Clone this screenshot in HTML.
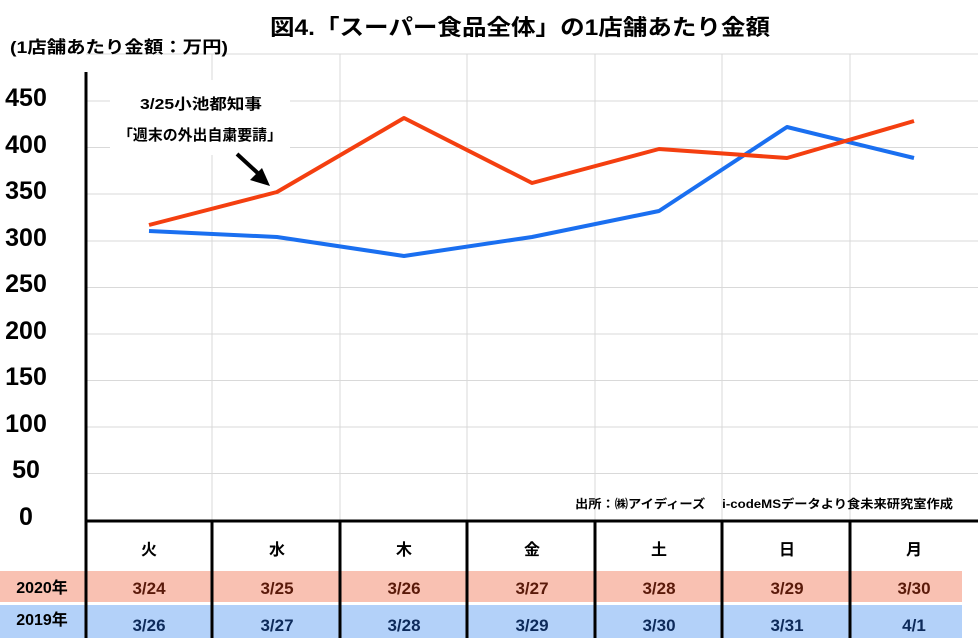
<!DOCTYPE html>
<html><head><meta charset="utf-8"><style>
body{margin:0;background:#fff;}
svg text{font-family:"Liberation Sans","Noto Sans CJK JP",sans-serif;font-weight:bold;}
</style></head><body>
<svg width="978" height="638" xmlns="http://www.w3.org/2000/svg">
<rect width="978" height="638" fill="#fff"/>
<g stroke="#d9d9d9" stroke-width="1">
<line x1="86" y1="54" x2="978" y2="54"/>
<line x1="86" y1="101" x2="978" y2="101"/><line x1="86" y1="147.5" x2="978" y2="147.5"/>
<line x1="86" y1="194" x2="978" y2="194"/><line x1="86" y1="241" x2="978" y2="241"/>
<line x1="86" y1="287.5" x2="978" y2="287.5"/><line x1="86" y1="334" x2="978" y2="334"/>
<line x1="86" y1="380.5" x2="978" y2="380.5"/><line x1="86" y1="427" x2="978" y2="427"/>
<line x1="86" y1="473.5" x2="978" y2="473.5"/>
<line x1="212" y1="54" x2="212" y2="520"/><line x1="340" y1="54" x2="340" y2="520"/>
<line x1="467" y1="54" x2="467" y2="520"/><line x1="595" y1="54" x2="595" y2="520"/>
<line x1="722" y1="54" x2="722" y2="520"/><line x1="850" y1="54" x2="850" y2="520"/>
</g>
<rect x="0" y="571" width="962" height="31" fill="#f9c1b2"/>
<rect x="0" y="605" width="962" height="33" fill="#b3d1f9"/>
<line x1="86" y1="72" x2="86" y2="638" stroke="#000" stroke-width="3"/>
<line x1="86" y1="521" x2="978" y2="521" stroke="#000" stroke-width="3"/>
<g stroke="#000" stroke-width="3">
<line x1="212" y1="521" x2="212" y2="638"/><line x1="340" y1="521" x2="340" y2="638"/>
<line x1="467" y1="521" x2="467" y2="638"/><line x1="595" y1="521" x2="595" y2="638"/>
<line x1="722" y1="521" x2="722" y2="638"/><line x1="850" y1="521" x2="850" y2="638"/>
</g>
<rect x="110" y="80" width="180" height="75" fill="#fff"/>
<polyline fill="none" stroke="#1a6ff0" stroke-width="4" stroke-linejoin="round" points="149,231 277,237 404,256 532,237 659,211 787,127 914,158"/>
<polyline fill="none" stroke="#f43f10" stroke-width="4" stroke-linejoin="round" points="149,225 277,192 404,118 532,183 659,149 787,158 914,121"/>
<line x1="237" y1="154" x2="262" y2="177" stroke="#000" stroke-width="4"/>
<polygon points="270,186 250,180 262,168" fill="#000"/>
<text x="270" y="35" font-size="22" textLength="500" lengthAdjust="spacingAndGlyphs">図4.「スーパー食品全体」の1店舗あたり金額</text>
<text x="10" y="53" font-size="17" textLength="218" lengthAdjust="spacingAndGlyphs">(1店舗あたり金額：万円)</text>
<text x="140" y="109" font-size="15" textLength="122" lengthAdjust="spacingAndGlyphs">3/25小池都知事</text>
<text x="118" y="140" font-size="15" textLength="164" lengthAdjust="spacingAndGlyphs">「週末の外出自粛要請」</text>
<g font-size="25" text-anchor="middle">
<text x="26" y="106">450</text><text x="26" y="153">400</text><text x="26" y="199">350</text>
<text x="26" y="246">300</text><text x="26" y="292">250</text><text x="26" y="339">200</text>
<text x="26" y="385">150</text><text x="26" y="432">100</text><text x="26" y="478">50</text>
<text x="26" y="525">0</text>
</g>
<text x="575" y="508" font-size="12" textLength="378" lengthAdjust="spacingAndGlyphs">出所：㈱アイディーズ　 i-codeMSデータより食未来研究室作成</text>
<g font-size="16" text-anchor="middle">
<text x="149" y="555">火</text><text x="277" y="555">水</text><text x="404" y="555">木</text>
<text x="532" y="555">金</text><text x="659" y="555">土</text><text x="787" y="555">日</text><text x="914" y="555">月</text>
</g>
<text x="42" y="593" font-size="16" text-anchor="middle">2020年</text>
<text x="42" y="625" font-size="16" text-anchor="middle">2019年</text>
<g font-size="17" text-anchor="middle" fill="#5a1a0a">
<text x="149" y="594">3/24</text><text x="277" y="594">3/25</text><text x="404" y="594">3/26</text>
<text x="532" y="594">3/27</text><text x="659" y="594">3/28</text><text x="787" y="594">3/29</text><text x="914" y="594">3/30</text>
</g>
<g font-size="17" text-anchor="middle" fill="#0d2a5a">
<text x="149" y="631">3/26</text><text x="277" y="631">3/27</text><text x="404" y="631">3/28</text>
<text x="532" y="631">3/29</text><text x="659" y="631">3/30</text><text x="787" y="631">3/31</text><text x="914" y="631">4/1</text>
</g>
</svg>
</body></html>
